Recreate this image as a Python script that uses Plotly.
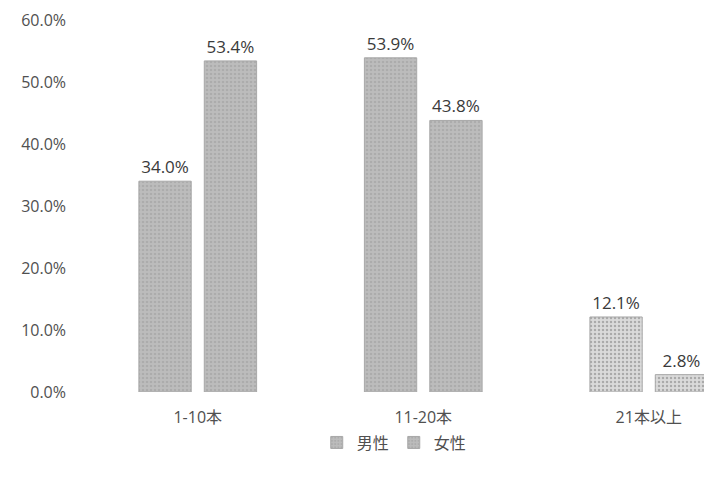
import plotly.graph_objects as go

# Cigarettes per day, share of smokers by sex
categories = ["1-10本", "11-20本", "21本以上"]
male = [0.340, 0.539, 0.121]
female = [0.534, 0.438, 0.028]
series_names = ["男性", "女性"]
y_ticks = [0, 0.1, 0.2, 0.3, 0.4, 0.5, 0.6]

FONT = "Open Sans, Noto Sans CJK JP, sans-serif"

# grainy grey fill; the heaviest-smoker group is printed lighter and speckled
bg_colors = ["#bcbcbc", "#bcbcbc", "#dadada"]
fg_colors = ["#9c9c9c", "#9c9c9c", "#7a7a7a"]

fig = go.Figure()
for name, vals in zip(series_names, [male, female]):
    fig.add_trace(go.Bar(
        name=name,
        x=categories,
        y=vals,
        text=[f"{v*100:.1f}%" for v in vals],
        textposition="outside",
        textfont=dict(size=17, color="#3a3a3a", family=FONT),
        marker=dict(
            color="#b4b4b4",
            line=dict(color="#a8a8a8", width=1),
            pattern=dict(shape=".", fgcolor=fg_colors, bgcolor=bg_colors,
                         size=4, solidity=0.3),
        ),
    ))

fig.update_layout(
    width=704,
    height=480,
    margin=dict(l=85, r=0, t=20, b=88, autoexpand=False),
    paper_bgcolor="white",
    plot_bgcolor="white",
    barmode="group",
    bargap=0.42,
    bargroupgap=0.2,
    showlegend=True,
    legend=dict(
        orientation="h",
        xref="container", yref="container",
        x=0.56, y=0.078, xanchor="center", yanchor="middle",
        bgcolor="rgba(0,0,0,0)",
        font=dict(size=16, color="#505050", family=FONT),
        itemwidth=30,
        tracegroupgap=0,
    ),
    xaxis=dict(
        range=[-0.5, 2.245],
        automargin=False,
        showgrid=False,
        showline=False,
        zeroline=False,
        ticks="",
        tickfont=dict(size=16, color="#505050", family=FONT),
        ticklabelstandoff=14,
    ),
    yaxis=dict(
        range=[0, 0.6],
        tickvals=y_ticks,
        tickformat=".1%",
        automargin=False,
        showgrid=False,
        showline=False,
        zeroline=False,
        ticks="",
        tickfont=dict(size=16, color="#505050", family=FONT),
        ticklabelstandoff=18,
    ),
)

fig.write_html("out.html")
